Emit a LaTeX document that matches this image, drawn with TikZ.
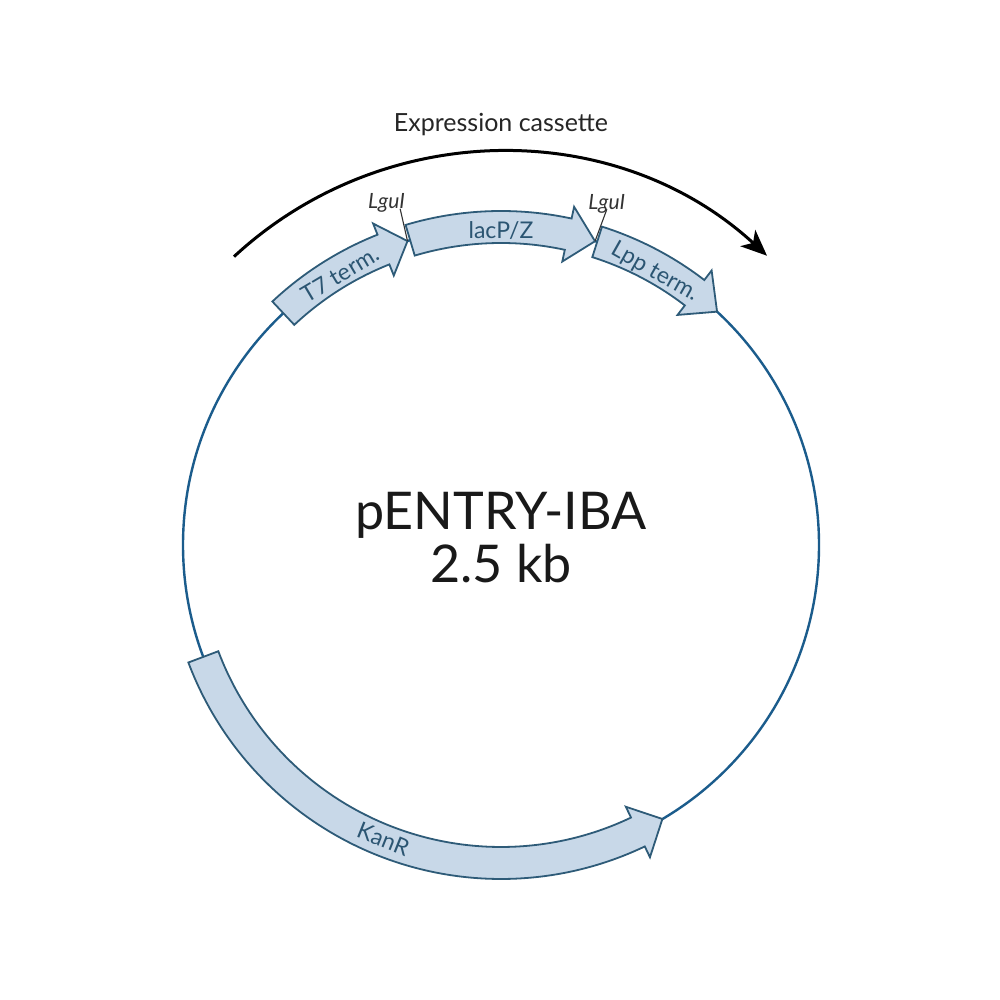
\documentclass[tikz,border=0pt]{standalone}
\usepackage{fontspec}
\setmainfont{Lato}
\usetikzlibrary{arrows.meta}
\definecolor{featfill}{HTML}{C8D8E8}
\definecolor{featline}{HTML}{2E5B78}
\definecolor{bbline}{HTML}{1B5C8C}
\definecolor{feattext}{HTML}{2B5572}
\definecolor{sitegray}{HTML}{333333}
\tikzset{
  feature/.style={fill=featfill, draw=featline, line width=1.8pt, line join=miter},
  backbone/.style={draw=bbline, line width=2.4pt},
  featlabel/.style={text=feattext, font=\fontsize{23}{26}\selectfont, inner sep=0pt},
  sitelabel/.style={text=sitegray, font=\fontsize{21}{24}\selectfont\itshape, inner sep=0pt},
  siteline/.style={draw=sitegray, line width=1.1pt},
  cassette/.style={draw=black, line width=3pt, -{Stealth[length=26pt,width=22pt,inset=7pt]}},
}
\begin{document}
\begin{tikzpicture}
\useasboundingbox (0pt,0pt) rectangle (1000pt,1000pt);
\fill[white] (0pt,0pt) rectangle (1000pt,1000pt);
\begin{scope}[shift={(501pt,455pt)}]
  % backbone
  \draw[backbone] (0pt,0pt) circle[radius=318pt];
  % expression cassette arc
  \draw[cassette] (132.8:393pt) arc[start angle=132.8, end angle=47.4, radius=393pt];
  \node[anchor=base, font=\fontsize{25}{28}\selectfont, text=black!85] (cas) at (0pt,413pt) {Expression cassette};
  % T7 term.
  \path[feature] (133.2:334pt) arc[start angle=133.2, end angle=111.7, radius=334pt]
     -- (111.7:346pt) -- (107.1:318pt) -- (111.7:290pt) -- (111.7:302pt)
     arc[start angle=111.7, end angle=133.2, radius=302pt] -- cycle;
  % lacP/Z
  \path[feature] (106.6:334pt) arc[start angle=106.6, end angle=77.8, radius=334pt]
     -- (77.8:346pt) -- (72.8:318pt) -- (77.8:290pt) -- (77.8:302pt)
     arc[start angle=77.8, end angle=106.6, radius=302pt] -- cycle;
  % Lpp term.
  \path[feature] (72.4:334pt) arc[start angle=72.4, end angle=52.5, radius=334pt]
     -- (52.5:346pt) -- (47.2:318pt) -- (52.5:290pt) -- (52.5:302pt)
     arc[start angle=52.5, end angle=72.4, radius=302pt] -- cycle;
  % KanR
  \path[feature] (200.6:334pt) arc[start angle=200.6, end angle=295.5, radius=334pt]
     -- (295.5:346pt) -- (300.5:318pt) -- (295.5:290pt) -- (295.5:302pt)
     arc[start angle=295.5, end angle=200.6, radius=302pt] -- cycle;
  % feature labels
  \node[featlabel, rotate=30.7] (t7) at (120.7:315pt) {T7 term.};
  \node[featlabel] (lac) at (90:314pt) {lacP/Z};
  \node[featlabel, rotate=-29.5] (lpp) at (60.6:313pt) {Lpp term.};
  \node[featlabel, rotate=-21.8] (kan) at (248.2:317pt) {KanR};
  % LguI sites
  \coordinate (s1a) at (107.1:318pt);
  \coordinate (s1b) at (106.7:351pt);
  \coordinate (s2a) at (72.8:318pt);
  \coordinate (s2b) at (72.5:352pt);
  \draw[siteline] (s1a) -- (s1b);
  \draw[siteline] (s2a) -- (s2b);
  \node[sitelabel, anchor=south east] (l1) at ([xshift=5pt,yshift=-4pt]s1b) {LguI};
  \node[sitelabel, anchor=south] (l2) at ([yshift=-4pt]s2b) {LguI};
  % center text
  \node[anchor=base, font=\fontsize{52}{56}\selectfont, text=black!90] (name) at (0pt,15pt) {pENTRY-IBA};
  \node[anchor=base, font=\fontsize{52}{56}\selectfont, text=black!90] (size) at (0pt,-38pt) {2.5 kb};
\end{scope}
\end{tikzpicture}
\end{document}
